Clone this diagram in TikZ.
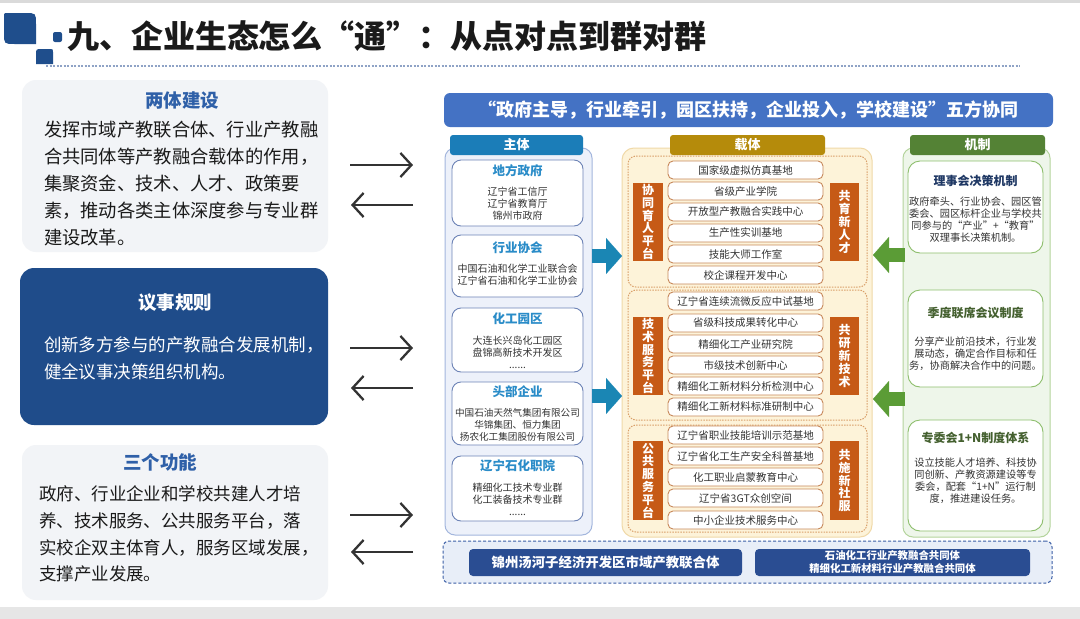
\documentclass[tikz,border=0pt]{standalone}
\usepackage{fontspec}
\setmainfont{Noto Sans CJK SC}
\usetikzlibrary{arrows.meta}
\definecolor{panelgray}{HTML}{F2F4F7}
\definecolor{darkpanel}{HTML}{1F4C8A}
\definecolor{ptblue}{HTML}{2F60A8}
\definecolor{bodyblack}{HTML}{1A1A1A}
\definecolor{bodydark}{HTML}{333333}
\definecolor{arrgray}{HTML}{333333}
\definecolor{logoblue}{HTML}{1F4E8C}
\definecolor{dashc}{HTML}{8FA3C6}
\definecolor{topgray}{HTML}{DADADA}
\definecolor{botgray}{HTML}{E6E6E6}
\definecolor{bannerblue}{HTML}{4472C4}
\definecolor{zhdr}{HTML}{1B7DB8}
\definecolor{zfill}{HTML}{EDF1FA}
\definecolor{zborder}{HTML}{A3B6DD}
\definecolor{zitemb}{HTML}{6D83B6}
\definecolor{ztitlec}{HTML}{2A8CC8}
\definecolor{chdr}{HTML}{B58B0B}
\definecolor{cfill}{HTML}{FDF3D9}
\definecolor{cborder}{HTML}{F0D9A8}
\definecolor{csecb}{HTML}{D9A06A}
\definecolor{citemb}{HTML}{C7885A}
\definecolor{labfill}{HTML}{C65A16}
\definecolor{mhdr}{HTML}{548235}
\definecolor{mfill}{HTML}{EEF6EA}
\definecolor{mborder}{HTML}{B4D49C}
\definecolor{mitemb}{HTML}{8DBE6C}
\definecolor{m1title}{HTML}{1F3864}
\definecolor{m2title}{HTML}{44602F}
\definecolor{tealarr}{HTML}{1A86B4}
\definecolor{greenarr}{HTML}{5B9C36}
\definecolor{bfill}{HTML}{E8EEF8}
\definecolor{bborder}{HTML}{3B5EA6}
\definecolor{binnerc}{HTML}{2A4D92}
\newcommand{\myfs}[2]{\fontsize{#1}{#2}\selectfont}
\newcommand{\mybox}[6]{\node[#1,minimum width={(#4)-(#2)},minimum height={(#5)-(#3)}] (#6) at ({((#2)+(#4))/2},{((#3)+(#5))/2}) {};}
\begin{document}
\begin{tikzpicture}[x=1pt,y=-1pt,
 every node/.style={inner sep=0pt,outer sep=0pt},
 lpanel/.style={fill=panelgray,rounded corners=14pt},
 dpanel/.style={fill=darkpanel,rounded corners=14pt},
 ptitle/.style={font=\myfs{18.5}{20}\bfseries,text=ptblue},
 pbody/.style={anchor=west,align=left,text=bodyblack},
 larrow/.style={draw=arrgray,line width=2.3pt,-{Straight Barb[length=11pt,width=24pt]}},
 banner/.style={fill=bannerblue,rounded corners=6pt},
 hdr/.style={rounded corners=3pt,text=white,font=\myfs{13}{14}\bfseries},
 zcont/.style={fill=zfill,draw=zborder,line width=1pt,rounded corners=10pt},
 zitem/.style={fill=white,draw=zitemb,line width=0.9pt,rounded corners=9pt},
 ztitle/.style={font=\myfs{12.5}{14}\bfseries,text=ztitlec},
 zbody/.style={align=center,font=\myfs{10}{12},text=bodydark},
 ccont/.style={fill=cfill,draw=cborder,line width=1pt,rounded corners=12pt},
 csec/.style={draw=csecb,dash pattern=on 1.5pt off 1.2pt,line width=1pt,rounded corners=8pt},
 citem/.style={fill=white,draw=citemb,line width=0.9pt,rounded corners=5pt,minimum width=155pt,minimum height=18pt,font=\myfs{10.5}{12},text=bodydark},
 vlab/.style={fill=labfill,align=center,text=white,font=\myfs{12}{12.8}\bfseries},
 mcont/.style={fill=mfill,draw=mborder,line width=1pt,rounded corners=10pt},
 mitem/.style={fill=white,draw=mitemb,line width=0.9pt,rounded corners=12pt},
 mtitle/.style={font=\myfs{12}{14}\bfseries},
 mbody/.style={align=center,font=\myfs{10.2}{12},text=bodydark},
 tarrow/.style={draw=tealarr,line width=14pt,-{Triangle[length=16pt,width=36pt,line width=0.1pt]}},
 garrow/.style={draw=greenarr,line width=14pt,-{Triangle[length=16pt,width=36pt,line width=0.1pt]}},
 bcont/.style={fill=bfill,draw=bborder,line width=1pt,dash pattern=on 3pt off 2pt,rounded corners=6pt},
 binner/.style={fill=binnerc,rounded corners=4pt}
]
\useasboundingbox (0,0) rectangle (1080,619);
\fill[white] (0,0) rectangle (1080,619);
\fill[topgray] (0,0) rectangle (1080,3);
\fill[botgray] (0,607) rectangle (1080,619);
% logo
\fill[logoblue] (36,44) -- (36,24) .. controls (36,13) .. (25,13) -- (8,13) .. controls (4,13) .. (4,17) -- (4,33) .. controls (4,44) .. (15,44) -- cycle;
\fill[logoblue,rounded corners=2pt] (53,32) rectangle (62,42);
\fill[logoblue] (36,64) -- (36,55) .. controls (36,49) .. (42,49) -- (50,49) .. controls (53,49) .. (53,52) -- (53,64) -- cycle;
\draw[dashc,line width=1.2pt,dash pattern=on 2pt off 1.5pt] (46,66) -- (1020,66);
\node[anchor=west,font=\myfs{32}{34}\bfseries,text=bodyblack] (title) at (67,36) {九、企业生态怎么“通”：从点对点到群对群};
% left panels
\mybox{lpanel}{22}{80}{328}{252}{p1}
\node[ptitle] (p1t) at (182,100) {两体建设};
\node[pbody,font=\myfs{18.3}{27}] (p1b) at (44,184) {发挥市域产教联合体、行业产教融\\合共同体等产教融合载体的作用，\\集聚资金、技术、人才、政策要\\素，推动各类主体深度参与专业群\\建设改革。};
\mybox{dpanel}{20}{268}{328}{425}{p2}
\node[ptitle,text=white] (p2t) at (175,303) {议事规则};
\node[pbody,text=white,font=\myfs{17.5}{27}] (p2b) at (44,358.5) {创新多方参与的产教融合发展机制，\\健全议事决策组织机构。};
\mybox{lpanel}{22}{445}{328}{600}{p3}
\node[ptitle] (p3t) at (160,462) {三个功能};
\node[pbody,font=\myfs{17.5}{26.7}] (p3b) at (39,534) {政府、行业企业和学校共建人才培\\养、技术服务、公共服务平台，落\\实校企双主体育人，服务区域发展，\\支撑产业发展。};
% double arrows
\coordinate (a1a) at (350,165); \coordinate (a1b) at (413,165);
\coordinate (a1c) at (413,205); \coordinate (a1d) at (351,205);
\coordinate (a2a) at (350,348); \coordinate (a2b) at (413,348);
\coordinate (a2c) at (413,388); \coordinate (a2d) at (351,388);
\coordinate (a3a) at (350,515); \coordinate (a3b) at (413,515);
\coordinate (a3c) at (413,552); \coordinate (a3d) at (351,552);
\draw[larrow] (a1a) -- (a1b);
\draw[larrow] (a1c) -- (a1d);
\draw[larrow] (a2a) -- (a2b);
\draw[larrow] (a2c) -- (a2d);
\draw[larrow] (a3a) -- (a3b);
\draw[larrow] (a3c) -- (a3d);
% banner
\mybox{banner}{444}{93}{1053}{127}{ban}
\node[text=white,font=\myfs{18}{20}\bfseries] (bant) at (748.5,110) {“政府主导，行业牵引，园区扶持，企业投入，学校建设”五方协同};
% containers
\mybox{zcont}{445}{148}{592}{535}{zc}
\mybox{ccont}{622}{148}{872}{537}{cc}
\mybox{mcont}{903}{148}{1050}{537}{mc}
\node[hdr,fill=zhdr,minimum width=133pt,minimum height=20pt] (zh) at (516.5,145) {主体};
\node[hdr,fill=chdr,minimum width=155pt,minimum height=20pt] (ch) at (747.5,145) {载体};
\node[hdr,fill=mhdr,minimum width=135pt,minimum height=20pt] (mh) at (977.5,145) {机制};
% zhuti items
\mybox{zitem}{452}{160}{583}{226}{z1}
\node[ztitle] (z1t) at (517.5,171) {地方政府};
\node[zbody] (z1b) at (517.5,203.5) {辽宁省工信厅\\辽宁省教育厅\\锦州市政府};
\mybox{zitem}{452}{235}{583}{297}{z2}
\node[ztitle] (z2t) at (517.5,248) {行业协会};
\node[zbody] (z2b) at (517.5,275) {中国石油和化学工业联合会\\辽宁省石油和化学工业协会};
\mybox{zitem}{452}{308}{583}{372}{z3}
\node[ztitle] (z3t) at (517.5,319) {化工园区};
\node[zbody] (z3b) at (517.5,352) {大连长兴岛化工园区\\盘锦高新技术开发区\\......};
\mybox{zitem}{452}{382}{583}{445}{z4}
\node[ztitle] (z4t) at (517.5,392) {头部企业};
\node[zbody,font=\myfs{9.6}{12}] (z4b) at (517.5,425) {中国石油天然气集团有限公司\\华锦集团、恒力集团\\扬农化工集团股份有限公司};
\mybox{zitem}{452}{456}{583}{521}{z5}
\node[ztitle] (z5t) at (517.5,466) {辽宁石化职院};
\node[zbody] (z5b) at (517.5,499) {精细化工技术专业群\\化工装备技术专业群\\......};
% zaiti sections
\mybox{csec}{628}{156}{867}{287}{s1}
\mybox{csec}{628}{290}{867}{420}{s2}
\mybox{csec}{628}{425}{867}{532}{s3}
\node[citem] (r11) at (745.5,170) {国家级虚拟仿真基地};
\node[citem] (r12) at (745.5,191) {省级产业学院};
\node[citem] (r13) at (745.5,212) {开放型产教融合实践中心};
\node[citem] (r14) at (745.5,233) {生产性实训基地};
\node[citem] (r15) at (745.5,254) {技能大师工作室};
\node[citem] (r16) at (745.5,275) {校企课程开发中心};
\node[citem] (r21) at (745.5,301) {辽宁省连续流微反应中试基地};
\node[citem] (r22) at (745.5,323) {省级科技成果转化中心};
\node[citem] (r23) at (745.5,344) {精细化工产业研究院};
\node[citem] (r24) at (745.5,365) {市级技术创新中心};
\node[citem] (r25) at (745.5,386) {精细化工新材料分析检测中心};
\node[citem] (r26) at (745.5,407) {精细化工新材料标准研制中心};
\node[citem] (r31) at (745.5,435) {辽宁省职业技能培训示范基地};
\node[citem] (r32) at (745.5,456) {辽宁省化工生产安全科普基地};
\node[citem] (r33) at (745.5,477) {化工职业启蒙教育中心};
\node[citem] (r34) at (745.5,498) {辽宁省3GT众创空间};
\node[citem] (r35) at (745.5,520) {中小企业技术服务中心};
\node[vlab,minimum width=30pt,minimum height=78pt] (l1) at (648,222) {协\\同\\育\\人\\平\\台};
\node[vlab,minimum width=29pt,minimum height=78pt] (q1) at (844.5,222) {共\\育\\新\\人\\才};
\node[vlab,minimum width=30pt,minimum height=78pt] (l2) at (648,356) {技\\术\\服\\务\\平\\台};
\node[vlab,minimum width=29pt,minimum height=78pt] (q2) at (844.5,356) {共\\研\\新\\技\\术};
\node[vlab,minimum width=30pt,minimum height=79pt] (l3) at (648,480.5) {公\\共\\服\\务\\平\\台};
\node[vlab,minimum width=29pt,minimum height=79pt] (q3) at (844.5,480.5) {共\\施\\新\\社\\服};
% mechanism
\mybox{mitem}{908}{161}{1043}{253}{m1}
\node[mtitle,text=m1title] (m1t) at (975.5,181) {理事会决策机制};
\node[mbody] (m1b) at (975.5,220) {政府牵头、行业协会、园区管\\委会、园区标杆企业与学校共\\同参与的“产业”+“教育”\\双理事长决策机制。};
\mybox{mitem}{908}{290}{1043}{387}{m2}
\node[mtitle,text=m2title] (m2t) at (975.5,313) {季度联席会议制度};
\node[mbody] (m2b) at (975.5,354) {分享产业前沿技术，行业发\\展动态，确定合作目标和任\\务，协商解决合作中的问题。};
\mybox{mitem}{908}{420}{1043}{531}{m3}
\node[mtitle,text=m2title] (m3t) at (975.5,438) {专委会1+N制度体系};
\node[mbody] (m3b) at (975.5,481) {设立技能人才培养、科技协\\同创新、产教资源建设等专\\委会，配套“1+N”运行制\\度，推进建设任务。};
% block arrows
\coordinate (t1s) at (592,256); \coordinate (t1e) at (622,256);
\coordinate (t2s) at (592,396); \coordinate (t2e) at (622,396);
\coordinate (g1s) at (905,255); \coordinate (g1e) at (873,255);
\coordinate (g2s) at (905,399); \coordinate (g2e) at (873,399);
\draw[tarrow] (t1s) -- (t1e);
\draw[tarrow] (t2s) -- (t2e);
\draw[garrow] (g1s) -- (g1e);
\draw[garrow] (g2s) -- (g2e);
% bottom bar
\mybox{bcont}{443}{541}{1052}{583}{bc}
\mybox{binner}{469}{549}{742}{576}{bl}
\node[text=white,font=\myfs{13.4}{15}\bfseries] (blt) at (605.5,562.5) {锦州汤河子经济开发区市域产教联合体};
\mybox{binner}{755}{549}{1030}{576}{br}
\node[text=white,align=center,font=\myfs{10.4}{13}\bfseries] (brt) at (892.5,562.5) {石油化工行业产教融合共同体\\精细化工新材料行业产教融合共同体};
\end{tikzpicture}
\end{document}
